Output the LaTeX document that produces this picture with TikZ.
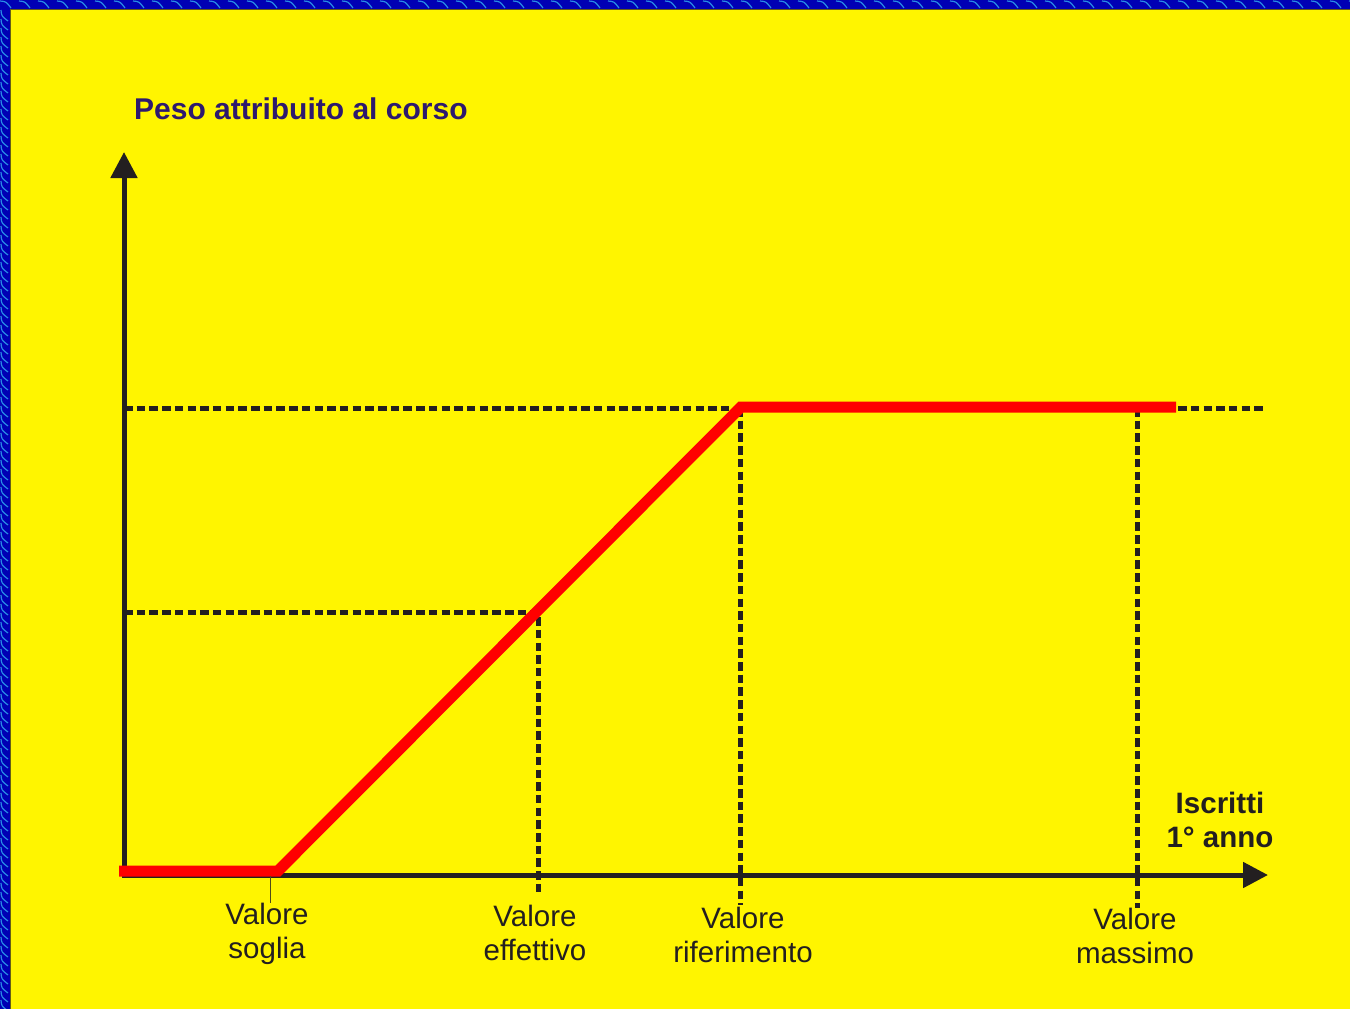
\documentclass[tikz,border=0pt]{standalone}
\usepackage{fontspec}
\setmainfont{Liberation Sans}
\usetikzlibrary{arrows.meta}
\definecolor{bgyellow}{RGB}{255,245,0}
\definecolor{bordblue}{RGB}{0,0,180}
\definecolor{squig}{RGB}{40,140,230}
\definecolor{inkdark}{RGB}{35,31,32}
\definecolor{titleblue}{RGB}{45,25,110}
\definecolor{curvered}{RGB}{255,0,0}
\tikzset{
  axisline/.style={draw=inkdark,line width=5pt},
  guide/.style={draw=inkdark,line width=5pt,dash pattern=on 8.5pt off 4.2pt},
  curve/.style={draw=curvered,line width=11pt,line join=miter},
  lbl/.style={inner sep=0pt,anchor=base,text=inkdark,font=\fontsize{29.5}{34}\selectfont},
  axtitle/.style={inner sep=0pt,anchor=base,text=inkdark,font=\bfseries\fontsize{29.5}{34}\selectfont},
  ticker/.style={draw=inkdark!80!bgyellow,line width=1pt}
}
\newcommand{\twolines}[2]{\begin{tabular}[t]{@{}c@{}}#1\\#2\end{tabular}}
\begin{document}
\begin{tikzpicture}[x=1pt,y=-1pt]
\useasboundingbox (0,0) rectangle (1350,1009);
% background and border
\fill[bgyellow] (0,0) rectangle (1350,1009);
\fill[bordblue] (0,0) rectangle (1350,9.5);
\fill[bordblue] (0,0) rectangle (10,1009);
\foreach \i in {0,19,...,1350} {
  \draw[squig,line width=1.2pt] (\i,1) .. controls (\i+6,1.5) .. (\i+11,8);
}
\foreach \j in {10,19,...,1009} {
  \draw[squig,line width=1.2pt] (1,\j) .. controls (1.5,\j+6) .. (8,\j+11);
}
\draw[inkdark!70!bgyellow,line width=0.8pt] (10.2,9.8) -- (1350,9.8);
\draw[inkdark!70!bgyellow,line width=0.8pt] (10.2,9.8) -- (10.2,1009);

% key points
\coordinate (O) at (124,875);
\coordinate (ytip) at (124,152);
\coordinate (xtip) at (1268,875);
\coordinate (cstart) at (119,871);
\coordinate (soglia) at (278,871);
\coordinate (rif) at (741,407);
\coordinate (cend) at (1176,407);
\coordinate (hiL) at (124,408);
\coordinate (hiR) at (1266,408);
\coordinate (loL) at (124,612);
\coordinate (eff) at (538,612);
\coordinate (effB) at (538,893);
\coordinate (rifT) at (740,408);
\coordinate (rifB) at (740,905);
\coordinate (maxT) at (1137,408);
\coordinate (maxB) at (1137,908);
\coordinate (tickT) at (270,876);
\coordinate (tickB) at (270,903);

% dashed guides
\draw[guide] (hiL) -- (hiR);
\draw[guide] (loL) -- (eff) -- (effB);
\draw[guide] (rifT) -- (rifB);
\draw[guide] (maxT) -- (maxB);

% axes
\draw[axisline,{Triangle[length=26pt,width=26pt]}-{Triangle[length=25pt,width=25pt]}] (ytip) -- (O) -- (xtip);

% curve
\draw[curve] (cstart) -- (soglia) -- (rif) -- (cend);

% tick for soglia
\draw[ticker] (tickT) -- (tickB);

% texts
\node[inner sep=0pt,anchor=base west,text=titleblue,font=\bfseries\fontsize{30}{36}\selectfont] (ytitle) at (134,119.5) {Peso attribuito al corso};
\node[axtitle] (xtitle) at (1220,813) {\twolines{Iscritti}{1° anno}};
\node[lbl] (lsoglia) at (267,924) {\twolines{Valore}{soglia}};
\node[lbl] (leff) at (535,926) {\twolines{Valore}{effettivo}};
\node[lbl] (lrif) at (743,928.5) {\twolines{Valore}{riferimento}};
\node[lbl] (lmax) at (1135,929) {\twolines{Valore}{massimo}};
\end{tikzpicture}
\end{document}
